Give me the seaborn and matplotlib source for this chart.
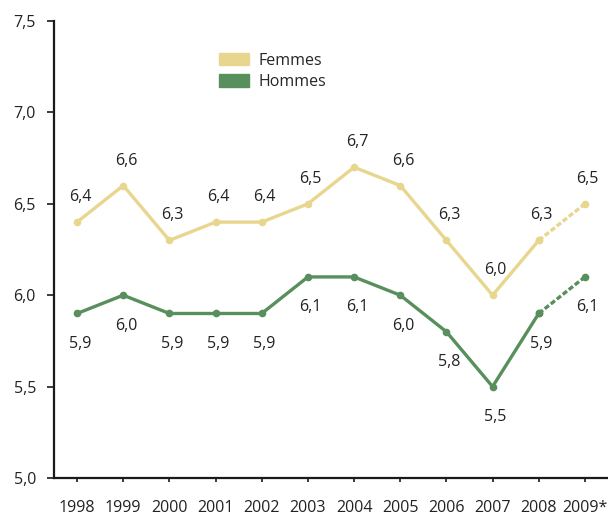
import pandas as pd
import numpy as np
import matplotlib.pyplot as plt
import matplotlib.patches as mpatches
import seaborn as sns

# Données
annees = ['1998', '1999', '2000', '2001', '2002', '2003', '2004', '2005', '2006', '2007', '2008', '2009*']
femmes = [6.4, 6.6, 6.3, 6.4, 6.4, 6.5, 6.7, 6.6, 6.3, 6.0, 6.3, 6.5]
hommes = [5.9, 6.0, 5.9, 5.9, 5.9, 6.1, 6.1, 6.0, 5.8, 5.5, 5.9, 6.1]
yticks = [5.0, 5.5, 6.0, 6.5, 7.0, 7.5]

col_femmes = '#e8d68f'
col_hommes = '#588f5c'

sns.set_theme(style="white")
plt.rcParams['font.family'] = ['Open Sans', 'DejaVu Sans']

df = pd.DataFrame({'x': np.arange(len(annees)), 'Femmes': femmes, 'Hommes': hommes})
df_plein = df.iloc[:-1]
df_tirets = df.iloc[-2:]

fig = plt.figure(figsize=(6.08, 5.19), dpi=100)
ax = fig.add_axes([0.0888, 0.079, 0.9112, 0.8805])

for serie, couleur, dy in [('Femmes', col_femmes, 18), ('Hommes', col_hommes, -22)]:
    sns.lineplot(data=df_plein, x='x', y=serie, ax=ax, color=couleur, linewidth=2.4,
                 marker='o', markersize=5.5, markeredgewidth=0)
    sns.lineplot(data=df_tirets, x='x', y=serie, ax=ax, color=couleur, linewidth=2.4,
                 linestyle=(0, (1.6, 0.7)), marker='o', markersize=5.5, markeredgewidth=0)
    for xi, v in zip(df['x'], df[serie]):
        ax.annotate(f"{v:.1f}".replace('.', ','), (xi, v), xytext=(2, dy),
                    textcoords='offset points', ha='center', va='center',
                    fontsize=11.5, color='#222222')

ax.set_xlim(-0.5, 11.5)
ax.set_ylim(5.0, 7.5)
ax.set_xticks(df['x'])
ax.set_xticklabels(annees)
ax.set_yticks(yticks)
ax.set_yticklabels([f"{t:.1f}".replace('.', ',') for t in yticks])
ax.set_xlabel('')
ax.set_ylabel('')

for s in ['top', 'right']:
    ax.spines[s].set_visible(False)
for s in ['left', 'bottom']:
    ax.spines[s].set_color('#1a1a1a')
    ax.spines[s].set_linewidth(1.6)

ax.tick_params(axis='x', direction='out', length=3, width=1.2, color='#1a1a1a',
               pad=13, labelsize=11.5, labelcolor='#222222', bottom=True)
ax.tick_params(axis='y', direction='out', length=5, width=1.2, color='#1a1a1a',
               pad=8, labelsize=11.5, labelcolor='#222222', left=True)

handles = [mpatches.Patch(color=col_femmes, label='Femmes'),
           mpatches.Patch(color=col_hommes, label='Hommes')]
ax.legend(handles=handles, loc='upper left', bbox_to_anchor=(0.286, 0.945),
          frameon=False, fontsize=11.5, handlelength=1.9, handleheight=0.85,
          handletextpad=0.6, labelspacing=0.35, borderaxespad=0)

plt.savefig('out.png', dpi=100)
